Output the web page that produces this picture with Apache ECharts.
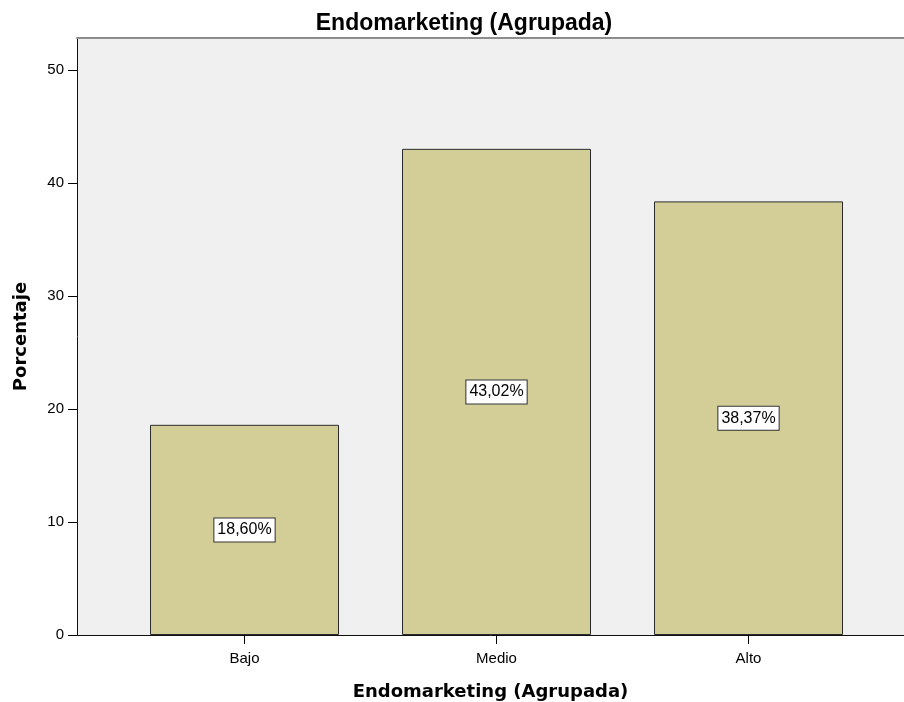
<!DOCTYPE html>
<html>
<head>
<meta charset="utf-8">
<script src="https://cdn.jsdelivr.net/npm/echarts@6/dist/echarts.min.js"></script>
<style>
    html, body { margin: 0; padding: 0; background: #fff; }
    #chart { width: 904px; height: 702px; }
</style>
</head>
<body>
<div id="chart"></div>
<script>
var categories = ['Bajo', 'Medio', 'Alto'];
var percentages = [18.60, 43.02, 38.37];
var yTicks = [0, 10, 20, 30, 40, 50];
var catPositions = [0, 1, 2];

var chart = echarts.init(document.getElementById('chart'));

// bars sit on a value axis so the left/right margins match the original
var barData = percentages.map(function (v, i) { return [catPositions[i], v]; });

chart.setOption({
    animation: false,
    backgroundColor: '#ffffff',
    title: {
        text: 'Endomarketing (Agrupada)',
        left: 459,
        textAlign: 'center',
        top: 7,
        textStyle: {
            fontFamily: 'Liberation Sans',
            fontWeight: 'bold',
            fontSize: 23,
            color: '#000'
        }
    },
    grid: {
        left: 77,
        right: 0,
        top: 38,
        bottom: 67,
        outerBoundsMode: 'none',
        containLabel: false,
        show: true,
        backgroundColor: '#f0f0f0',
        borderWidth: 0
    },
    xAxis: [
        {
            type: 'value',
            min: -0.6647,
            max: 2.617,
            name: 'Endomarketing (Agrupada)',
            nameLocation: 'middle',
            nameGap: 48,
            nameTextStyle: {
                fontFamily: 'DejaVu Sans',
                fontWeight: 'bold',
                fontSize: 18,
                color: '#000'
            },
            splitLine: { show: false },
            axisLine: { show: true, lineStyle: { color: '#111', width: 1 } },
            axisTick: {
                show: true,
                length: 9,
                customValues: catPositions,
                lineStyle: { color: '#000' }
            },
            axisLabel: {
                customValues: catPositions,
                margin: 16,
                fontFamily: 'Liberation Sans',
                fontSize: 15,
                color: '#000',
                formatter: function (v) { return categories[Math.round(v)]; }
            }
        },
        {
            type: 'value',
            position: 'top',
            min: 0,
            max: 1,
            axisLine: { show: true, onZero: false, lineStyle: { color: '#8c8c8c', width: 2 } },
            axisTick: { show: false },
            axisLabel: { show: false },
            splitLine: { show: false }
        }
    ],
    yAxis: {
        type: 'value',
        min: 0,
        max: 52.83,
        interval: 10,
        name: 'Porcentaje',
        nameLocation: 'middle',
        nameGap: 47,
        nameTextStyle: {
            fontFamily: 'DejaVu Sans',
            fontWeight: 'bold',
            fontSize: 18,
            color: '#000'
        },
        splitLine: { show: false },
        axisLine: { show: true, onZero: false, lineStyle: { color: '#111', width: 1 } },
        axisTick: { show: true, length: 9, lineStyle: { color: '#000' } },
        axisLabel: {
            margin: 13,
            fontFamily: 'Liberation Sans',
            fontSize: 15,
            color: '#000',
            showMaxLabel: false,
            formatter: function (v) { return yTicks.indexOf(v) >= 0 ? String(v) : ''; }
        }
    },
    series: [
        {
            type: 'bar',
            xAxisIndex: 0,
            data: barData,
            barWidth: 189,
            itemStyle: {
                color: '#d3ce98',
                borderColor: '#2b2b2b',
                borderWidth: 1
            },
            label: {
                show: true,
                position: 'inside',
                fontFamily: 'Liberation Sans',
                fontSize: 16,
                color: '#000',
                backgroundColor: '#ffffff',
                borderColor: '#333',
                borderWidth: 1,
                padding: [4, 3, 3, 3],
                formatter: function (p) {
                    return p.value[1].toFixed(2).replace('.', ',') + '%';
                }
            }
        }
    ]
});
</script>
</body>
</html>
